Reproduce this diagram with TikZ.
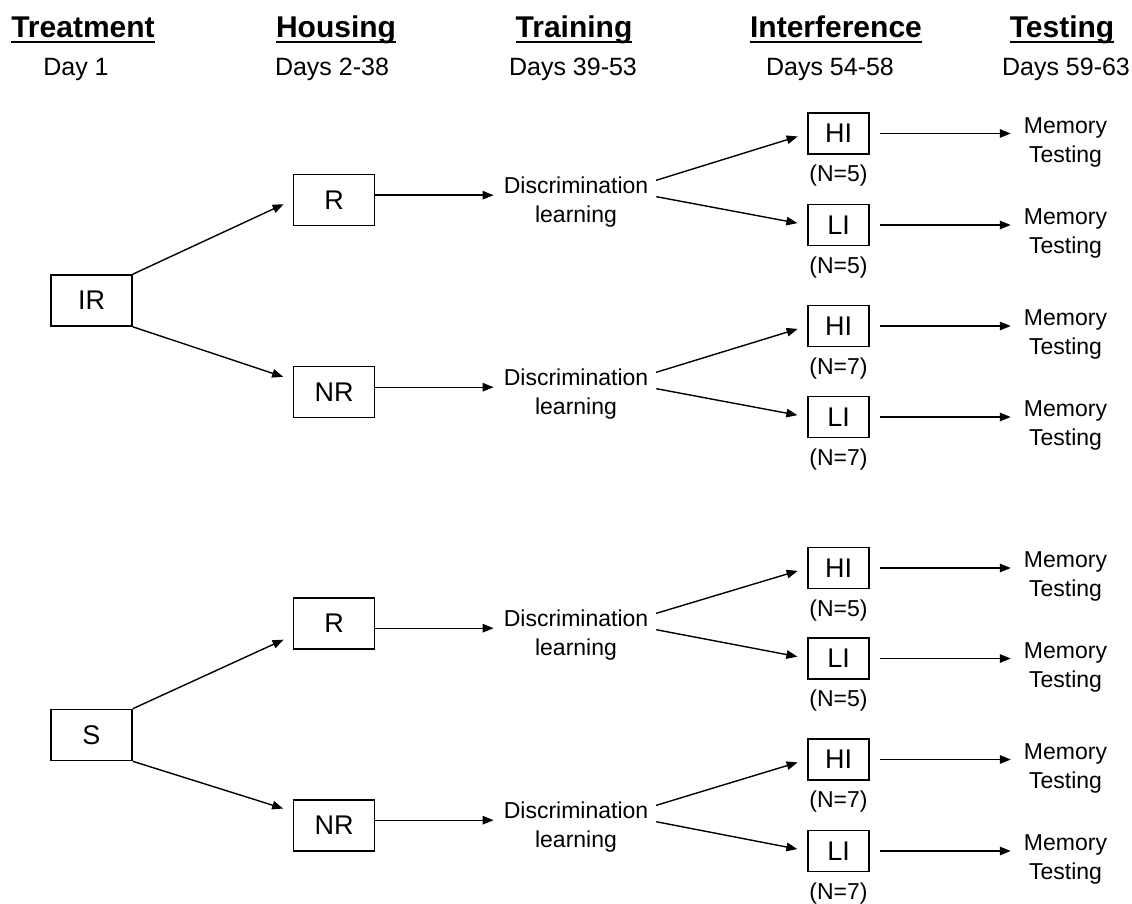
\documentclass[tikz,border=0pt]{standalone}
\usepackage{fontspec}
\setmainfont{Liberation Sans}
\usepackage{tikz}
\usetikzlibrary{arrows.meta,positioning}

% underlined column title
\newsavebox{\headbox}
\newcommand{\ulhead}[1]{\sbox{\headbox}{#1}\rlap{\rule[-5.5pt]{\wd\headbox}{2.5pt}}\usebox{\headbox}}

\begin{document}
\begin{tikzpicture}[
    x=1pt, y=-1pt,
    >={Triangle[length=11pt,width=8.5pt]},
    % Column headers
    phase/.style={anchor=base, font=\fontsize{30}{36}\selectfont\bfseries},
    days/.style={anchor=base, font=\fontsize{25}{30}\selectfont},
    % Boxes
    group/.style={rectangle, draw, line width=1.6pt, minimum width=81pt, minimum height=51pt, inner sep=0pt, font=\fontsize{27}{32}\selectfont},
    level/.style={rectangle, draw, line width=1.6pt, minimum width=61pt, minimum height=41pt, inner sep=0pt, font=\fontsize{27}{32}\selectfont},
    % Plain text
    stage/.style={align=center, inner xsep=0pt, font=\fontsize{23}{29}\selectfont},
    count/.style={inner sep=2pt, font=\fontsize{23}{28}\selectfont},
    flow/.style={->, line width=1.4pt, shorten >=10pt}
]
\useasboundingbox (0,0) rectangle (1132,904);

% Column headers
\node[phase] (hTreat) at (83,38) {\ulhead{Treatment}};
\node[phase] (hHouse) at (336,38) {\ulhead{Housing}};
\node[phase] (hTrain) at (574,38) {\ulhead{Training}};
\node[phase] (hInter) at (836,38) {\ulhead{Interference}};
\node[phase] (hTest) at (1062,38) {\ulhead{Testing}};

\node[days] (dTreat) at (76,76) {Day 1};
\node[days] (dHouse) at (332,76) {Days 2-38};
\node[days] (dTrain) at (573,76) {Days 39-53};
\node[days] (dInter) at (830,76) {Days 54-58};
\node[days] (dTest) at (1066,76) {Days 59-63};

% Treatment and housing
\node[group] (IR) at (91.5,300.5) {IR};
\node[group] (S) at (91.5,735) {S};
\node[group] (R1) at (334,200) {R};
\node[group] (NR1) at (334,392) {NR};
\node[group] (R2) at (334,623.5) {R};
\node[group] (NR2) at (334,825.5) {NR};

% Training
\node[stage] (D1) at (576,201.7) {Discrimination\\learning};
\node[stage] (D2) at (576,393.7) {Discrimination\\learning};
\node[stage] (D3) at (576,634.7) {Discrimination\\learning};
\node[stage] (D4) at (576,826.7) {Discrimination\\learning};

% Interference levels
\node[level] (HI1) at (838.5,133.5) {HI};
\node[level] (LI1) at (838.5,225) {LI};
\node[level] (HI2) at (838.5,326) {HI};
\node[level] (LI2) at (838.5,417) {LI};
\node[level] (HI3) at (838.5,568) {HI};
\node[level] (LI3) at (838.5,658.5) {LI};
\node[level] (HI4) at (838.5,759.5) {HI};
\node[level] (LI4) at (838.5,851) {LI};

\node[count, below=8pt of HI1] (nHI1) {(N=5)};
\node[count, below=8pt of LI1] (nLI1) {(N=5)};
\node[count, below=8pt of HI2] (nHI2) {(N=7)};
\node[count, below=8pt of LI2] (nLI2) {(N=7)};
\node[count, below=8pt of HI3] (nHI3) {(N=5)};
\node[count, below=8pt of LI3] (nLI3) {(N=5)};
\node[count, below=8pt of HI4] (nHI4) {(N=7)};
\node[count, below=8pt of LI4] (nLI4) {(N=7)};

% Testing
\node[stage] (T1) at (1065.5,142.2) {Memory\\Testing};
\node[stage] (T2) at (1065.5,233.7) {Memory\\Testing};
\node[stage] (T3) at (1065.5,334.7) {Memory\\Testing};
\node[stage] (T4) at (1065.5,425.7) {Memory\\Testing};
\node[stage] (T5) at (1065.5,576.7) {Memory\\Testing};
\node[stage] (T6) at (1065.5,667.2) {Memory\\Testing};
\node[stage] (T7) at (1065.5,768.2) {Memory\\Testing};
\node[stage] (T8) at (1065.5,859.7) {Memory\\Testing};

% Treatment -> housing
\draw[flow] (IR.north east) -- (R1.west);
\draw[flow] (IR.south east) -- ([yshift=12pt]NR1.west);
\draw[flow] (S.north east) -- ([yshift=-12pt]R2.west);
\draw[flow] (S.south east) -- ([yshift=14pt]NR2.west);

% Housing -> training
\coordinate (in1) at ([yshift=6.5pt]D1.west);
\coordinate (in2) at ([yshift=6.5pt]D2.west);
\coordinate (in3) at ([yshift=6.5pt]D3.west);
\coordinate (in4) at ([yshift=6.5pt]D4.west);
\draw[flow] (R1.east |- in1) -- (in1);
\draw[flow] (NR1.east |- in2) -- (in2);
\draw[flow] (R2.east |- in3) -- (in3);
\draw[flow] (NR2.east |- in4) -- (in4);

% Training -> interference
\draw[flow, shorten <=8pt] ([yshift=19pt]D1.east) -- (HI1.west);
\draw[flow, shorten <=8pt] ([yshift=6.5pt]D1.east) -- (LI1.west);
\draw[flow, shorten <=8pt] ([yshift=19pt]D2.east) -- (HI2.west);
\draw[flow, shorten <=8pt] ([yshift=6.5pt]D2.east) -- (LI2.west);
\draw[flow, shorten <=8pt] ([yshift=19pt]D3.east) -- (HI3.west);
\draw[flow, shorten <=8pt] ([yshift=6.5pt]D3.east) -- (LI3.west);
\draw[flow, shorten <=8pt] ([yshift=19pt]D4.east) -- (HI4.west);
\draw[flow, shorten <=8pt] ([yshift=6.5pt]D4.east) -- (LI4.west);

% Interference -> testing
\draw[flow, shorten <=10pt, shorten >=13pt] (HI1.east) -- (HI1.east -| T1.west);
\draw[flow, shorten <=10pt, shorten >=13pt] (LI1.east) -- (LI1.east -| T2.west);
\draw[flow, shorten <=10pt, shorten >=13pt] (HI2.east) -- (HI2.east -| T3.west);
\draw[flow, shorten <=10pt, shorten >=13pt] (LI2.east) -- (LI2.east -| T4.west);
\draw[flow, shorten <=10pt, shorten >=13pt] (HI3.east) -- (HI3.east -| T5.west);
\draw[flow, shorten <=10pt, shorten >=13pt] (LI3.east) -- (LI3.east -| T6.west);
\draw[flow, shorten <=10pt, shorten >=13pt] (HI4.east) -- (HI4.east -| T7.west);
\draw[flow, shorten <=10pt, shorten >=13pt] (LI4.east) -- (LI4.east -| T8.west);
\end{tikzpicture}
\end{document}
